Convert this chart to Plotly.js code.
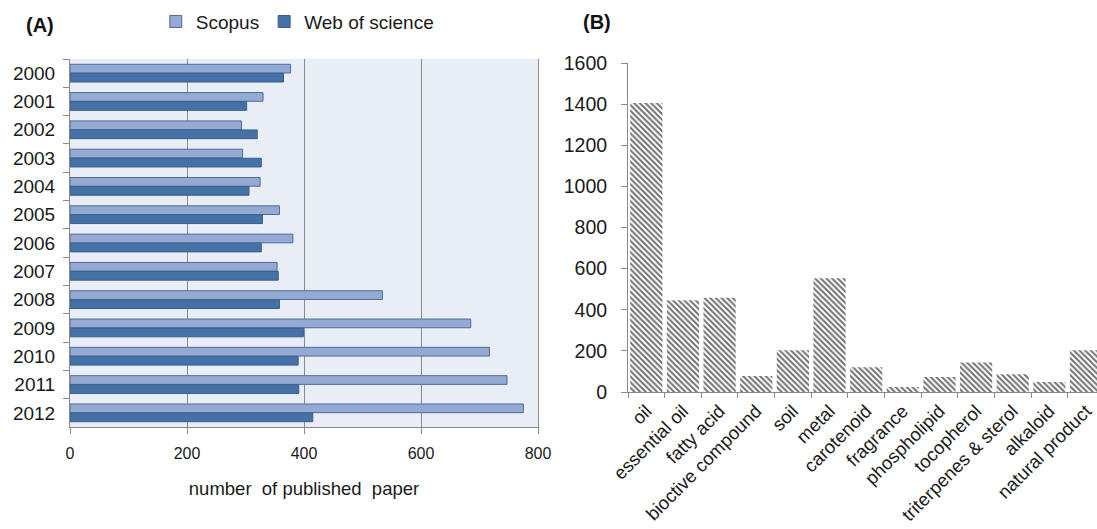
<!DOCTYPE html>
<html><head><meta charset="utf-8">
<script src="https://cdn.plot.ly/plotly-3.0.1.min.js"></script>
<style>body{margin:0;padding:0;background:#fff}#chart{width:1097px;height:529px}</style>
</head><body><div id="chart"></div>
<script>
// Panel A data
const years = ["2000","2001","2002","2003","2004","2005","2006","2007","2008","2009","2010","2011","2012"];
const scopus = [377, 330, 293, 295, 325, 358, 381, 354, 534, 685, 717, 747, 775];
const webOfScience = [365, 302, 320, 327, 306, 329, 327, 356, 358, 399, 390, 391, 415];
const xTicksA = [0, 200, 400, 600, 800];

// Panel B data
const compounds = ["oil","essential oil","fatty acid","bioctive compound","soil","metal","carotenoid","fragrance","phospholipid","tocopherol","triterpenes & sterol","alkaloid","natural product"];
const compoundCounts = [1405, 446, 458, 78, 203, 553, 120, 24, 73, 143, 86, 49, 203];
const yTicksB = [0, 200, 400, 600, 800, 1000, 1200, 1400, 1600];

const font = "Liberation Sans, Arial, sans-serif";

const traces = [
  {type:"bar", orientation:"h", name:"Scopus", y:years, x:scopus, xaxis:"x", yaxis:"y",
   marker:{color:"#95aad2", line:{color:"#4d6c9e", width:1}}},
  {type:"bar", orientation:"h", name:"Web of science", y:years, x:webOfScience, xaxis:"x", yaxis:"y",
   marker:{color:"#4571a6", line:{color:"#3a5f8d", width:1}}},
  {type:"bar", x:compounds, y:compoundCounts, xaxis:"x2", yaxis:"y2", showlegend:false, width:0.88,
   marker:{color:"#ffffff", line:{width:0},
     pattern:{shape:"\\", fgcolor:"#6e6e6e", bgcolor:"#ffffff", size:4, solidity:0.48}}}
];

const layout = {
  width:1097, height:529,
  margin:{l:0, r:0, t:0, b:0},
  paper_bgcolor:"#ffffff",
  font:{family:font, color:"#1a1a1a", size:16},
  barmode:"group", bargap:0.36, bargroupgap:0.04,
  showlegend:true,
  legend:{orientation:"h", x:0.142, y:0.995, xanchor:"left", yanchor:"top",
    font:{size:19, family:font}, bgcolor:"rgba(0,0,0,0)", itemwidth:30, tracegroupgap:0},
  xaxis:{domain:[70/1097, 538/1097], range:[0, 800], tickvals:xTicksA, ticktext:xTicksA.map(String),
    showgrid:true, gridcolor:"#8a8a8a", gridwidth:1, zeroline:false,
    showline:true, linecolor:"#8a8a8a", linewidth:1,
    ticks:"outside", ticklen:6, tickcolor:"#8a8a8a", ticklabelstandoff:6,
    tickfont:{size:16},
    title:{text:"number  of published  paper", font:{size:18.5}, standoff:20}, anchor:"y"},
  yaxis:{domain:[1-427/529, 1-59/529], type:"category", autorange:"reversed",
    showline:true, mirror:true, linecolor:"#8a8a8a", linewidth:1, showgrid:false,
    ticks:"outside", tickson:"boundaries", ticklen:6, tickcolor:"#8a8a8a",
    tickfont:{size:19}, ticklabelstandoff:10, anchor:"x"},
  xaxis2:{domain:[628/1097, 1], range:[-0.5, 12.3], type:"category",
    showline:true, linecolor:"#8a8a8a", linewidth:1, showgrid:false,
    ticks:"outside", tickson:"boundaries", ticklen:5, tickcolor:"#8a8a8a",
    tickangle:-45, tickfont:{size:18.5}, anchor:"y2"},
  yaxis2:{domain:[1-392/529, 1-63/529], range:[0, 1600], tickvals:yTicksB, ticktext:yTicksB.map(String),
    showline:true, linecolor:"#8a8a8a", linewidth:1, showgrid:false, zeroline:false,
    ticks:"outside", ticklen:6, tickcolor:"#8a8a8a", tickfont:{size:19.5}, ticklabelstandoff:10, anchor:"x2"},
  annotations:[
    {text:"<b>(A)</b>", xref:"paper", yref:"paper", x:40/1097, y:1-25/529, xanchor:"center", yanchor:"middle",
     showarrow:false, font:{size:20, family:font, color:"#111"}},
    {text:"<b>(B)</b>", xref:"paper", yref:"paper", x:597/1097, y:1-22/529, xanchor:"center", yanchor:"middle",
     showarrow:false, font:{size:20, family:font, color:"#111"}}
  ],
  shapes:[
    {type:"rect", xref:"x domain", yref:"y domain", x0:0, x1:1, y0:0, y1:1, fillcolor:"#e9edf5", line:{width:0}, layer:"below"}
  ]
};

Plotly.newPlot("chart", traces, layout, {staticPlot:true, displayModeBar:false});
</script></body></html>
